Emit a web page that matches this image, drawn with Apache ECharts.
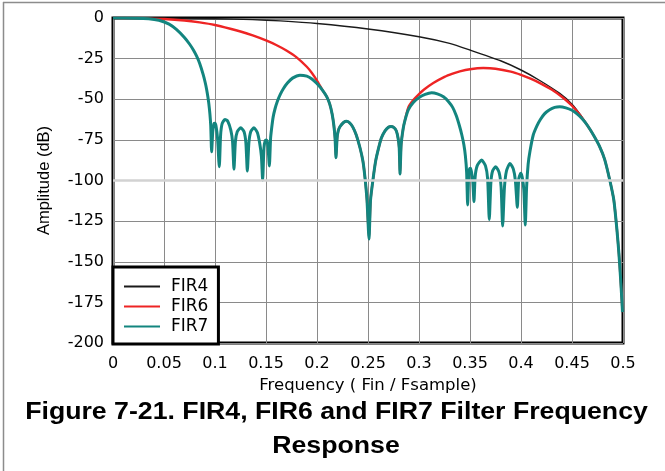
<!DOCTYPE html>
<html>
<head>
<meta charset="utf-8">
<script src="https://cdn.jsdelivr.net/npm/echarts@6/dist/echarts.min.js"></script>
<style>
html,body{margin:0;padding:0;background:#fff;}
#c{width:665px;height:471px;}
</style>
</head>
<body>
<div id="c"></div>
<script>
// Frequency ticks and amplitude ticks
var xTicks = [0, 0.05, 0.1, 0.15, 0.2, 0.25, 0.3, 0.35, 0.4, 0.45, 0.5];
var yTicks = [0, -25, -50, -75, -100, -125, -150, -175, -200];

// common tail (all filters merge near Nyquist)
var tail = [[0.465,-66],[0.471,-72],[0.477,-79],[0.482,-87],[0.487,-99.7],[0.491,-112],[0.494,-130],[0.496,-145],[0.4977,-161],[0.499,-175],[0.4995,-181]];

// shared notch region of FIR6 / FIR7 between 0.21 and 0.286
var mid = [[0.2095,-48.4],[0.2125,-53],[0.2148,-59],[0.2165,-66],[0.2177,-74],[0.2186,-86],[0.2197,-74],[0.2208,-69.5],[0.2225,-66.9],[0.226,-64.3],[0.229,-63.6],[0.232,-64.5],[0.235,-67],[0.2385,-72],[0.2422,-80],[0.245,-88],[0.247,-98],[0.249,-112],[0.251,-136],[0.2525,-112],[0.2552,-98],[0.2575,-88],[0.26,-81],[0.263,-74],[0.2667,-69.5],[0.27,-67.2],[0.2725,-66.8],[0.2755,-67.5],[0.2778,-69.5],[0.2795,-74],[0.2806,-80],[0.2814,-96],[0.2825,-78],[0.2845,-68],[0.2863,-62.8]];

var fir4 = [[0,0],[0.05,-0.1],[0.1,-0.5],[0.137,-1.0],[0.164,-1.8],[0.2,-3.4],[0.25,-6.8],[0.3,-11.5],[0.33,-15.6],[0.35,-19.7],[0.38,-26.3],[0.4,-32],[0.418,-38.3],[0.438,-46.4],[0.45,-53],[0.458,-59.3]].concat(tail);

var fir6 = [[0,0],[0.03,-0.2],[0.05,-0.6],[0.07,-1.5],[0.085,-2.7],[0.1,-4.3],[0.115,-6.6],[0.125,-8.3],[0.137,-10.7],[0.15,-13.8],[0.16,-16.6],[0.17,-20],[0.18,-24.2],[0.19,-30],[0.195,-33.8],[0.2,-38.5],[0.2055,-44.5]]
  .concat(mid)
  .concat([[0.2895,-55],[0.2944,-50.5],[0.3,-46.8],[0.305,-44],[0.314,-40],[0.325,-36.2],[0.333,-34.2],[0.34,-32.8],[0.35,-31.5],[0.363,-30.8],[0.375,-31.2],[0.39,-33],[0.4,-35],[0.41,-37.5],[0.42,-40.5],[0.43,-44],[0.44,-48.5],[0.45,-54],[0.458,-59.8]])
  .concat(tail);

var fir7 = [[0,0],[0.02,-0.1],[0.035,-0.4],[0.045,-1.4],[0.055,-3.8],[0.0624,-7.2],[0.07,-12],[0.075,-16],[0.0788,-19.7],[0.082,-23.5],[0.085,-28],[0.0885,-35],[0.0905,-40],[0.0918,-44],[0.093,-48.5],[0.094,-53],[0.095,-59],[0.0958,-66],[0.0967,-82.3],
  [0.0978,-70],[0.099,-65],[0.1,-64.8],[0.101,-66.5],[0.1025,-74],[0.1042,-91.5],[0.1055,-72],[0.107,-65],[0.1098,-62.4],[0.1125,-63.5],[0.1155,-69],[0.1172,-76],[0.1186,-93],[0.12,-76],[0.1218,-70],[0.1252,-67.5],[0.1285,-70],[0.1303,-77],[0.1317,-94.2],[0.1332,-77],[0.135,-70],[0.1382,-67.5],[0.1415,-70.5],[0.1438,-77],[0.1455,-85],[0.1467,-99.7],[0.148,-80],[0.1492,-75.5],[0.1505,-75],[0.1518,-78],[0.1533,-91],
  [0.1545,-74],[0.1555,-68],[0.157,-61],[0.1588,-56],[0.161,-51.5],[0.164,-47],[0.167,-43.5],[0.171,-40],[0.176,-37],[0.1833,-35.2],[0.19,-35.8],[0.195,-37.5],[0.1997,-40.2],[0.2055,-44.5]]
  .concat(mid)
  .concat([[0.2895,-56.5],[0.2944,-52],[0.3,-49],[0.306,-47],[0.3124,-46],[0.318,-46.7],[0.324,-48.5],[0.329,-51.5],[0.333,-55],[0.3365,-60],[0.3395,-66],[0.342,-72],[0.344,-78],[0.3455,-85],[0.3467,-95],[0.3477,-115],
  [0.3487,-97],[0.3495,-93],[0.3505,-92.5],[0.3515,-95],[0.3528,-101],[0.3539,-113],[0.355,-98],[0.357,-91],[0.3614,-87.4],[0.3652,-91],[0.3673,-99],[0.3689,-124],[0.3705,-101],[0.3722,-94],[0.3752,-91.5],[0.3785,-95],[0.3805,-104],[0.382,-128],[0.3838,-104],[0.3858,-94],[0.3892,-89.5],[0.3925,-93],[0.3945,-100],[0.3964,-116.5],[0.3978,-99],[0.3997,-95.6],[0.4012,-98],[0.4028,-106],[0.4042,-127.4],
  [0.4055,-104],[0.407,-90],[0.4088,-82],[0.412,-72],[0.4155,-66.5],[0.419,-62.5],[0.423,-59],[0.428,-56.5],[0.433,-55],[0.438,-54.6],[0.444,-55.3],[0.45,-56.8],[0.455,-59],[0.46,-62]])
  .concat(tail);

var names = ['FIR4','FIR6','FIR7'];
var colors = ['#1a1a1a','#ee2424','#13857f'];
var widths = [1.4, 2.4, 3];

var chart = echarts.init(document.getElementById('c'), null, {renderer:'canvas'});
var wide = 'DejaVu Sans, sans-serif';
var arial = 'Liberation Sans, Arial, sans-serif';
var gridCols = yTicks.slice().reverse().map(function(v){ return v === -100 ? '#cfcfcf' : '#8a8a8a'; });

var datasets = [fir4, fir6, fir7];
var series = datasets.map(function(d, i){
  var s = {name:names[i], type:'line', data:d, symbol:'none', smooth:0.2,
    lineStyle:{color:colors[i], width:widths[i]}, itemStyle:{color:colors[i]}, z:2+i};
  if (i === 0) {
    s.markLine = {silent:true, symbol:'none', label:{show:false}, animation:false,
      lineStyle:{color:'#d2d2d2', width:2.5, type:'solid'}, data:[{yAxis:-100}]};
  }
  return s;
});

chart.setOption({
  animation:false,
  backgroundColor:'#fff',
  grid:{left:113, right:42, top:18, bottom:128, show:true, borderColor:'#000', borderWidth:3, backgroundColor:'transparent'},
  xAxis:{type:'value', min:0, max:0.5, interval:0.05,
    name:'Frequency ( Fin / Fsample)', nameLocation:'middle', nameGap:33,
    nameTextStyle:{color:'#000', fontSize:16.5, fontFamily:wide},
    axisLine:{show:false}, axisTick:{show:false},
    axisLabel:{color:'#000', fontSize:16, margin:13, fontFamily:wide,
      formatter:function(v){ return String(Math.round(v*100)/100); }},
    splitLine:{show:true, lineStyle:{color:'#8a8a8a', width:1}}},
  yAxis:{type:'value', min:-200, max:0, interval:25,
    name:'Amplitude (dB)', nameLocation:'middle', nameGap:60, nameRotate:90,
    nameTextStyle:{color:'#000', fontSize:16.5, fontFamily:arial},
    axisLine:{show:false}, axisTick:{show:false},
    axisLabel:{color:'#000', fontSize:16, margin:9, fontFamily:wide},
    splitLine:{show:true, lineStyle:{color:gridCols, width:1}}},
  legend:{orient:'vertical', left:113, top:267, data:names,
    backgroundColor:'#fff', borderColor:'#000', borderWidth:3,
    padding:[10, 10, 8, 10], itemGap:1, itemWidth:36, itemHeight:14,
    itemStyle:{opacity:0, borderWidth:0},
    textStyle:{color:'#000', fontSize:17, fontFamily:wide, lineHeight:19, padding:[0,0,0,6]}},
  graphic:[
    {type:'line', shape:{x1:3, y1:2.5, x2:665, y2:2.5}, style:{stroke:'#8c8c8c', lineWidth:1.5}, silent:true},
    {type:'line', shape:{x1:3.5, y1:2, x2:3.5, y2:471}, style:{stroke:'#8c8c8c', lineWidth:1.5}, silent:true},
    {type:'text', x:336.5, y:413, scaleX:1.16, silent:true,
      style:{text:'Figure 7-21. FIR4, FIR6 and FIR7 Filter Frequency', font:'bold 23px '+arial, fill:'#000', textAlign:'center', textVerticalAlign:'middle'}},
    {type:'text', x:336, y:447, scaleX:1.16, silent:true,
      style:{text:'Response', font:'bold 23px '+arial, fill:'#000', textAlign:'center', textVerticalAlign:'middle'}}
  ],
  series:series
});
</script>
</body>
</html>
